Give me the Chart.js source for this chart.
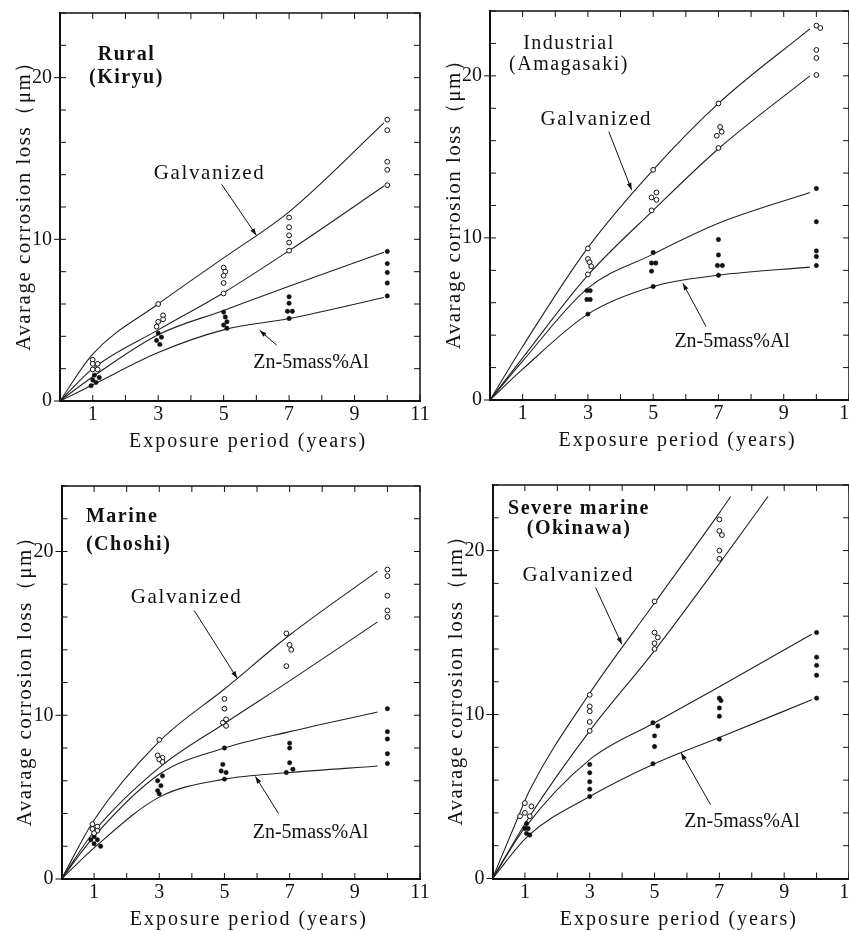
<!DOCTYPE html>
<html lang="en">
<head>
<meta charset="UTF-8">
<title>Avarage corrosion loss vs exposure period</title>
<script src="https://cdn.jsdelivr.net/npm/chart.js@4"></script>
<style>
    html, body { margin: 0; padding: 0; background: #fff; overflow: hidden; width: 849px; height: 931px; }
    canvas { position: absolute; }
</style>
</head>
<body>

<canvas id="rural" width="450" height="470" style="left:0;top:0"></canvas>
<canvas id="industrial" width="440" height="470" style="left:420px;top:0"></canvas>
<canvas id="marine" width="450" height="471" style="left:0;top:460px"></canvas>
<canvas id="okinawa" width="440" height="471" style="left:420px;top:460px"></canvas>

<script>
// ---- data (years, micrometres) ----

// Rural (Kiryu)
const ruralCurveYears = [0, 1, 3, 5, 7, 9.9];
const ruralGalvUpper  = [0, 2.9, 6.0, 8.85, 11.7, 17.2];
const ruralGalvLower  = [0, 2.0, 4.4, 6.7, 9.3, 13.3];
const ruralZnAlUpper  = [0, 1.5, 4.1, 5.6, 7.1, 9.2];
const ruralZnAlLower  = [0, 1.0, 3.0, 4.4, 5.1, 6.4];
const ruralGalvPoints = [[1, 2.55], [1, 2.3], [1.15, 2.3], [1, 1.95], [1.15, 1.95],
                         [3, 6.0], [3.15, 5.3], [3.15, 5.05], [3, 4.9], [2.95, 4.6],
                         [5, 8.25], [5.05, 8.0], [5, 7.75], [5, 7.3], [5, 6.65],
                         [7, 11.35], [7, 10.75], [7, 10.25], [7, 9.8], [7, 9.3],
                         [10, 17.4], [10, 16.75], [10, 14.8], [10, 14.3], [10, 13.35]];
const ruralZnAlPoints = [[1.05, 1.6], [1.2, 1.45], [1, 1.3], [1.1, 1.15], [0.95, 0.95],
                         [3, 4.2], [3.1, 3.95], [2.95, 3.75], [3.05, 3.5],
                         [5, 5.5], [5.05, 5.2], [5.1, 4.9], [5, 4.7], [5.1, 4.5],
                         [7, 6.45], [7, 6.05], [6.95, 5.55], [7.1, 5.55], [7, 5.1],
                         [10, 9.25], [10, 8.5], [10, 7.95], [10, 7.3], [10, 6.5]];

// Industrial (Amagasaki)
const industrialCurveYears = [0, 1, 3, 5, 7, 9.8];
const industrialGalvUpper  = [0, 3.3, 9.4, 14.2, 18.3, 22.9];
const industrialGalvLower  = [0, 2.6, 7.7, 11.7, 15.5, 20.0];
const industrialZnAlUpper  = [0, 2.4, 6.9, 9.0, 10.9, 12.8];
const industrialZnAlLower  = [0, 1.9, 5.3, 7.0, 7.7, 8.2];
const industrialGalvPoints = [[3, 9.35], [3, 8.7], [3.05, 8.5], [3.1, 8.25], [3, 7.75],
                              [5, 14.2], [5.1, 12.8], [4.95, 12.5], [5.1, 12.35], [4.95, 11.7],
                              [7, 18.3], [7.05, 16.85], [7.1, 16.55], [6.95, 16.3], [7, 15.55],
                              [10, 23.1], [10.12, 22.95], [10, 21.6], [10, 21.1], [10, 20.05]];
const industrialZnAlPoints = [[2.97, 6.75], [3.07, 6.75], [2.97, 6.2], [3.07, 6.2], [3, 5.3],
                              [5, 9.1], [4.95, 8.45], [5.08, 8.45], [4.95, 7.95], [5, 7.0],
                              [7, 9.9], [7, 8.95], [6.97, 8.3], [7.12, 8.3], [7, 7.7],
                              [10, 13.05], [10, 11.0], [10, 9.2], [10, 8.85], [10, 8.3]];

// Marine (Choshi)
const marineCurveYears = [0, 1, 3, 5, 7, 9.7];
const marineGalvUpper  = [0, 3.6, 8.4, 11.6, 14.9, 18.8];
const marineGalvLower  = [0, 2.9, 6.8, 9.5, 12.1, 15.7];
const marineZnAlUpper  = [0, 2.6, 6.4, 8.0, 9.0, 10.2];
const marineZnAlLower  = [0, 1.9, 5.0, 6.1, 6.5, 6.9];
const marineGalvPoints = [[0.95, 3.35], [1.1, 3.2], [0.95, 3.05], [1.1, 2.95], [1, 2.8],
                          [3, 8.5], [2.95, 7.55], [3.1, 7.4], [3, 7.3], [3.1, 7.15],
                          [5, 11.0], [5, 10.4], [5.05, 9.75], [4.95, 9.55], [5.05, 9.35],
                          [6.9, 15.0], [7, 14.3], [7.05, 14.0], [6.9, 13.0],
                          [10, 18.9], [10, 18.5], [10, 17.3], [10, 16.4], [10, 16.0]];
const marineZnAlPoints = [[1, 2.6], [0.9, 2.4], [1.1, 2.4], [1, 2.15], [1.2, 2.0],
                          [3.1, 6.3], [2.95, 6.0], [3.05, 5.7], [2.95, 5.4], [3, 5.2],
                          [5, 8.0], [4.95, 7.0], [4.9, 6.6], [5.05, 6.5], [5, 6.1],
                          [7, 8.3], [7, 8.0], [7, 7.1], [7.1, 6.7], [6.9, 6.5],
                          [10, 10.4], [10, 9.0], [10, 8.55], [10, 7.65], [10, 7.05]];

// Severe marine (Okinawa) - curves were read at their own x positions
const okinawaGalvUpperYears = [0, 0.8, 1.15, 3, 5, 7, 7.35];
const okinawaGalvUpper      = [0, 3.8, 5.4, 11.3, 16.8, 22.3, 23.3];
const okinawaGalvLowerYears = [0, 1.15, 3, 5, 7, 8.5];
const okinawaGalvLower      = [0, 3.8, 9.0, 13.9, 19.2, 23.3];
const okinawaZnAlUpperYears = [0, 1, 3, 5, 7, 9.85];
const okinawaZnAlUpper      = [0, 3.1, 7.25, 9.5, 11.7, 14.9];
const okinawaZnAlLowerYears = [0, 1.1, 3, 5, 7, 9.85];
const okinawaZnAlLower      = [0, 2.6, 5.0, 7.0, 8.6, 10.9];
const okinawaGalvPoints = [[1, 4.6], [1.2, 4.4], [1, 4.0], [0.85, 3.8], [1.15, 3.8],
                           [3, 11.2], [3, 10.5], [3, 10.2], [3, 9.55], [3, 9.0],
                           [5, 16.9], [5, 15.0], [5.1, 14.7], [5, 14.35], [5, 14.0],
                           [7, 21.9], [7, 21.2], [7.08, 20.95], [7, 20.0], [7, 19.5]];
const okinawaZnAlPoints = [[1.05, 3.35], [1, 3.05], [1.1, 3.05], [1.05, 2.75], [1.15, 2.65],
                           [3, 6.95], [3, 6.45], [3, 5.9], [3, 5.45], [3, 5.0],
                           [4.95, 9.5], [5.1, 9.3], [5, 8.7], [5, 8.05], [4.95, 7.0],
                           [7, 11.0], [7.05, 10.85], [7, 10.4], [7, 9.9], [7, 8.5],
                           [10, 15.0], [10, 13.5], [10, 13.0], [10, 12.4], [10, 11.0]];

const yTitle = 'Avarage corrosion loss（μm）';
const xTitle = 'Exposure period (years)';
const serif = '"Liberation Serif", "DejaVu Serif", serif';

function toXY(xs, ys) {
    return xs.map(function (x, i) { return { x: x, y: ys[i] }; });
}
function pairs(p) {
    return p.map(function (v) { return { x: v[0], y: v[1] }; });
}

function drawText(ctx, str, x, y, size, align, spacing, bold) {
    ctx.font = (bold ? 'bold ' : '') + size + 'px ' + serif;
    ctx.textAlign = align;
    ctx.textBaseline = 'middle';
    ctx.letterSpacing = spacing + 'px';
    ctx.fillText(str, x, y);
}

function drawArrow(ctx, x1, y1, x2, y2) {
    ctx.beginPath();
    ctx.moveTo(x1, y1);
    ctx.lineTo(x2, y2);
    ctx.stroke();
    var ang = Math.atan2(y2 - y1, x2 - x1), L = 7, W = 2.4;
    ctx.beginPath();
    ctx.moveTo(x2, y2);
    ctx.lineTo(x2 - L * Math.cos(ang) + W * Math.sin(ang), y2 - L * Math.sin(ang) - W * Math.cos(ang));
    ctx.lineTo(x2 - L * Math.cos(ang) - W * Math.sin(ang), y2 - L * Math.sin(ang) + W * Math.cos(ang));
    ctx.closePath();
    ctx.fill();
}

// frame, inward ticks and the labels of one panel
function decorPlugin(p) {
    return {
        id: 'decor',
        afterDraw: function (chart) {
            var ctx = chart.ctx, a = chart.chartArea;
            var xs = chart.scales.x, ys = chart.scales.y;
            var px = function (v) { return xs.getPixelForValue(v); };
            var py = function (v) { return ys.getPixelForValue(v); };
            ctx.save();
            ctx.strokeStyle = '#111';
            ctx.fillStyle = '#111';

            ctx.lineWidth = 1.5;
            ctx.beginPath();
            ctx.moveTo(a.left, a.top);
            ctx.lineTo(a.right, a.top);
            ctx.lineTo(a.right, a.bottom);
            ctx.stroke();

            ctx.lineWidth = 1;
            ctx.beginPath();
            xs.ticks.forEach(function (t) {
                var x = px(t.value);
                ctx.moveTo(x, a.bottom); ctx.lineTo(x, a.bottom - 6);
                ctx.moveTo(x, a.top); ctx.lineTo(x, a.top + 6);
            });
            ys.ticks.forEach(function (t) {
                var y = py(t.value);
                ctx.moveTo(a.left, y); ctx.lineTo(a.left + 6, y);
                ctx.moveTo(a.right, y); ctx.lineTo(a.right - 6, y);
                if (t.value % 10 === 0) { ctx.moveTo(a.left - 6, y); ctx.lineTo(a.left, y); }
            });
            ctx.stroke();

            // axis titles
            drawText(ctx, xTitle, px(5.75), a.bottom + 41, 20, 'center', 2, false);
            ctx.save();
            ctx.translate(a.left - 36, py(12.4));
            ctx.rotate(-Math.PI / 2);
            drawText(ctx, yTitle, 0, 0, 21, 'center', 1.5, false);
            ctx.restore();

            // site name
            var sx = px(p.siteAt[0]);
            drawText(ctx, p.site[0], sx, py(p.siteAt[1]), 20, p.siteAlign, 1.5, p.siteBold);
            drawText(ctx, p.site[1], sx, py(p.siteAt[2]), 20, p.siteAlign, 1.5, p.siteBold);

            // curve labels with arrows
            drawText(ctx, 'Galvanized', px(p.galvLabel[0]), py(p.galvLabel[1]), 21, 'center', 1.6, false);
            drawText(ctx, 'Zn-5mass%Al', px(p.znLabel[0]), py(p.znLabel[1]), 20, 'center', 0, false);
            ctx.lineWidth = 1;
            drawArrow(ctx, px(p.galvArrow[0]), py(p.galvArrow[1]), px(p.galvArrow[2]), py(p.galvArrow[3]));
            drawArrow(ctx, px(p.znArrow[0]), py(p.znArrow[1]), px(p.znArrow[2]), py(p.znArrow[3]));
            ctx.restore();
        }
    };
}

function curve(data) {
    return {
        data: data, showLine: true, pointRadius: 0, borderColor: '#222', borderWidth: 1.1,
        cubicInterpolationMode: 'monotone', fill: false
    };
}

function makePanel(p) {
    var tickFont = { family: serif, size: 20 };
    return new Chart(document.getElementById(p.canvas), {
        type: 'scatter',
        data: {
            datasets: [
                { data: p.galvPoints, pointRadius: 2.4, pointBorderWidth: 1, pointBorderColor: '#111',
                  pointBackgroundColor: '#fff', showLine: false },
                { data: p.znPoints, pointRadius: 2.2, pointBorderWidth: 0.5, pointBorderColor: '#111',
                  pointBackgroundColor: '#111', showLine: false },
                curve(p.curves[0]), curve(p.curves[1]), curve(p.curves[2]), curve(p.curves[3])
            ]
        },
        options: {
            responsive: false,
            animation: false,
            devicePixelRatio: 1,
            layout: { padding: p.padding },
            plugins: { legend: { display: false }, tooltip: { enabled: false } },
            scales: {
                x: {
                    type: 'linear', min: 0, max: 11,
                    afterFit: function (s) { s.height = p.xAxisHeight; s.paddingLeft = 0; s.paddingRight = 0; },
                    grid: { display: false, drawTicks: false },
                    border: { display: true, color: '#111', width: 2 },
                    ticks: {
                        stepSize: 1, autoSkip: false, maxRotation: 0, padding: 2, color: '#111', font: tickFont,
                        callback: function (v) { return v % 2 === 1 ? String(v) : ''; }
                    }
                },
                y: {
                    type: 'linear', min: 0, max: 24,
                    afterFit: function (s) { s.width = p.yAxisWidth; s.paddingTop = 0; s.paddingBottom = 0; },
                    grid: { display: false, drawTicks: false },
                    border: { display: true, color: '#111', width: 2 },
                    ticks: {
                        stepSize: 2, autoSkip: false, padding: 8, color: '#111', font: tickFont,
                        callback: function (v) { return (v % 10 === 0 && v <= 20) ? String(v) : ''; }
                    }
                }
            }
        },
        plugins: [decorPlugin(p)]
    });
}

makePanel({
    canvas: 'rural', yAxisWidth: 60, xAxisHeight: 69,
    padding: { left: 0, top: 13, right: 30, bottom: 0 },
    curves: [toXY(ruralCurveYears, ruralGalvUpper), toXY(ruralCurveYears, ruralGalvLower),
             toXY(ruralCurveYears, ruralZnAlUpper), toXY(ruralCurveYears, ruralZnAlLower)],
    galvPoints: pairs(ruralGalvPoints), znPoints: pairs(ruralZnAlPoints),
    site: ['Rural', '(Kiryu)'], siteAt: [2.03, 21.4, 20.0], siteAlign: 'center', siteBold: true,
    galvLabel: [4.57, 14.1], galvArrow: [4.94, 13.4, 6.0, 10.25],
    znLabel: [7.67, 2.35], znArrow: [6.62, 3.45, 6.1, 4.37]
});

makePanel({
    canvas: 'industrial', yAxisWidth: 70, xAxisHeight: 70,
    padding: { left: 0, top: 11, right: 11, bottom: 0 },
    curves: [toXY(industrialCurveYears, industrialGalvUpper), toXY(industrialCurveYears, industrialGalvLower),
             toXY(industrialCurveYears, industrialZnAlUpper), toXY(industrialCurveYears, industrialZnAlLower)],
    galvPoints: pairs(industrialGalvPoints), znPoints: pairs(industrialZnAlPoints),
    site: ['Industrial', '(Amagasaki)'], siteAt: [2.42, 22.0, 20.7], siteAlign: 'center', siteBold: false,
    galvLabel: [3.26, 17.3], galvArrow: [3.64, 16.56, 4.34, 12.96],
    znLabel: [7.42, 3.6], znArrow: [6.62, 4.53, 5.91, 7.2]
});

makePanel({
    canvas: 'marine', yAxisWidth: 61.5, xAxisHeight: 52,
    padding: { left: 0, top: 26, right: 30, bottom: 0 },
    curves: [toXY(marineCurveYears, marineGalvUpper), toXY(marineCurveYears, marineGalvLower),
             toXY(marineCurveYears, marineZnAlUpper), toXY(marineCurveYears, marineZnAlLower)],
    galvPoints: pairs(marineGalvPoints), znPoints: pairs(marineZnAlPoints),
    site: ['Marine', '(Choshi)'], siteAt: [0.75, 22.1, 20.4], siteAlign: 'left', siteBold: true,
    galvLabel: [3.84, 17.2], galvArrow: [4.07, 16.4, 5.39, 12.26],
    znLabel: [7.64, 2.8], znArrow: [6.66, 4.0, 5.95, 6.26]
});

makePanel({
    canvas: 'okinawa', yAxisWidth: 72.5, xAxisHeight: 52.5,
    padding: { left: 0, top: 25, right: 11, bottom: 0 },
    curves: [toXY(okinawaGalvUpperYears, okinawaGalvUpper), toXY(okinawaGalvLowerYears, okinawaGalvLower),
             toXY(okinawaZnAlUpperYears, okinawaZnAlUpper), toXY(okinawaZnAlLowerYears, okinawaZnAlLower)],
    galvPoints: pairs(okinawaGalvPoints), znPoints: pairs(okinawaZnAlPoints),
    site: ['Severe marine', '(Okinawa)'], siteAt: [2.67, 22.54, 21.31], siteAlign: 'center', siteBold: true,
    galvLabel: [2.65, 18.46], galvArrow: [3.18, 17.75, 3.99, 14.28],
    znLabel: [7.7, 3.47], znArrow: [6.73, 4.5, 5.82, 7.66]
});
</script>
</body>
</html>
